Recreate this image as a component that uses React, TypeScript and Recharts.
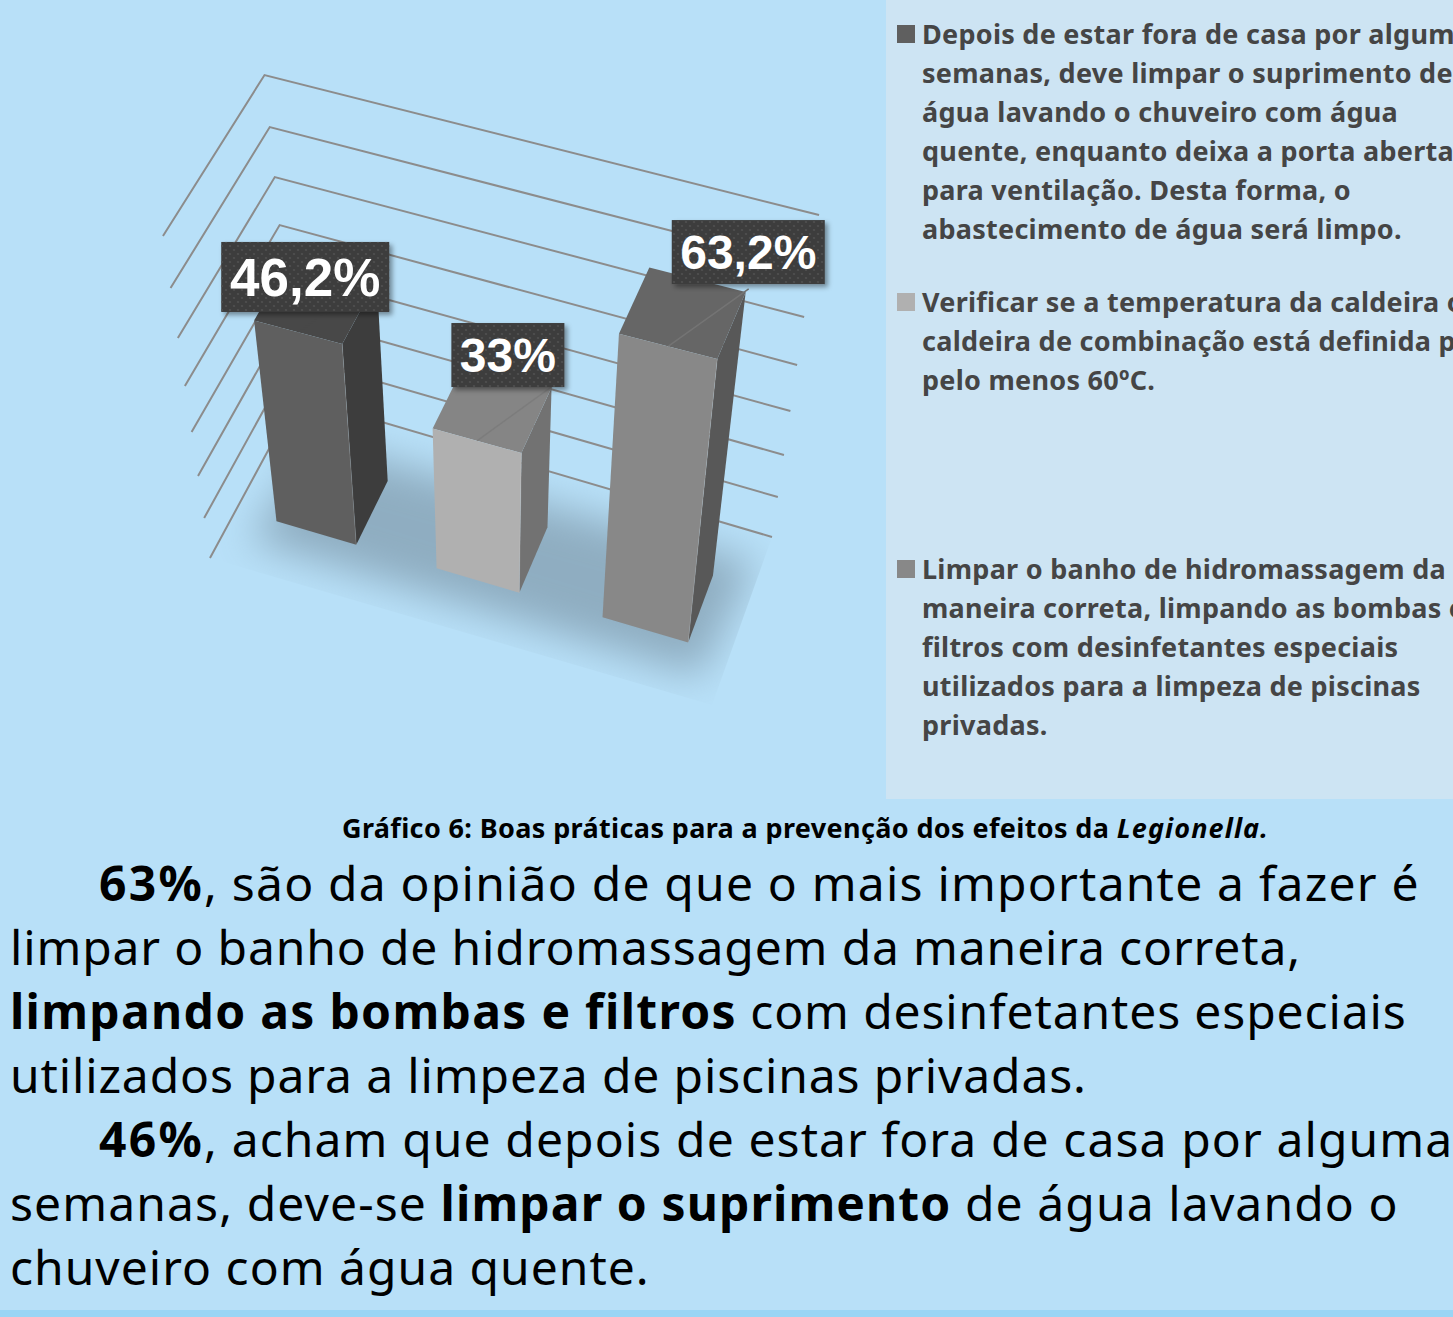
import React from 'react';
import { BarChart, Bar, XAxis, YAxis, Legend, LabelList, CartesianGrid } from 'recharts';

const categories = [
  ['Depois de estar fora de casa por algumas', 'semanas, deve limpar o suprimento de', 'água lavando o chuveiro com água', 'quente, enquanto deixa a porta aberta', 'para ventilação. Desta forma, o', 'abastecimento de água será limpo.'],
  ['Verificar se a temperatura da caldeira ou', 'caldeira de combinação está definida para', 'pelo menos 60ºC.'],
  ['Limpar o banho de hidromassagem da', 'maneira correta, limpando as bombas e', 'filtros com desinfetantes especiais', 'utilizados para a limpeza de piscinas', 'privadas.'],
];
const shares = [46.2, 33, 63.2];
const gridValues = [0, 10, 20, 30, 40, 50, 60, 70];

const faceColors = ['#5f5f5f', '#b0b0b0', '#888888'];
const topColors = ['#484848', '#858585', '#666666'];
const sideColors = ['#3d3d3d', '#727272', '#585858'];
const diagonalColors = ['#484848', '#7c7c7c', '#747474'];
const legendTops = [14, 282, 549];
const labelBoxes = [
  { dx: -37, dy: -67, w: 168, h: 70, font: 53 },
  { dx: -13.5, dy: -98, w: 113, h: 64, font: 48 },
  { dx: 31, dy: -107, w: 153, h: 64, font: 48 },
];

const BG = '#b8e0f8';
const BASELINE = 408;

// fake perspective: the library gives flat bars, these bend them onto the tilted floor
const gridWarp = (h: number) => h * (0.886 + 0.000517 * h);
const barWarp = (h: number) => h * (0.9 + 0.00043 * h);
const lift = (x: number, y: number, f: number): [number, number] => [x + (x - 491) * 0.00052 * f, y - f];
const squeeze = (u: number) => u + 0.00011 * (u - 276) * (u - 602);
const floorY = (x: number) => 521 + 0.295 * (x - 276);
const depth = (x: number): [number, number] => [33 - (x - 276) * 0.02, -63 - (x - 276) * 0.01];
const pts = (list: number[][]) => list.map((p) => `${p[0]},${p[1]}`).join(' ');

const Prism = (props: any) => {
  const { x, width, height, index } = props;
  const f = barWarp(height);
  const xl = squeeze(x);
  const xr = squeeze(x + width);
  const fl: [number, number] = [xl, floorY(xl)];
  const fr: [number, number] = [xr, floorY(xr)];
  const dl = depth(xl);
  const dr = depth(xr);
  const bl: [number, number] = [xl + dl[0], fl[1] + dl[1]];
  const br: [number, number] = [xr + dr[0], fr[1] + dr[1]];
  const tfl = lift(fl[0], fl[1], f);
  const tfr = lift(fr[0], fr[1], f);
  const tbl = lift(bl[0], bl[1], f);
  const tbr = lift(br[0], br[1], f);
  return (
    <g>
      <polygon points={pts([fr, br, tbr, tfr])} fill={sideColors[index]} />
      <polygon points={pts([tfl, tfr, tbr, tbl])} fill={topColors[index]} />
      <line x1={(tfl[0] + tfr[0]) / 2} y1={(tfl[1] + tfr[1]) / 2} x2={tbr[0] + 3} y2={tbr[1] - 3} stroke={diagonalColors[index]} strokeWidth={1.5} />
      <polygon points={pts([fl, fr, tfr, tfl])} fill={faceColors[index]} />
      <line x1={fr[0]} y1={fr[1]} x2={tfr[0]} y2={tfr[1]} stroke="#ffffff" strokeOpacity={0.15} />
    </g>
  );
};

const Floor = () => (
  <g>
    <defs>
      <clipPath id="floorClip">
        <polygon points="297,397 772,537 712,705 210,558" />
      </clipPath>
      <filter id="floorBlur" x="-30%" y="-30%" width="160%" height="160%">
        <feGaussianBlur stdDeviation="20" />
      </filter>
    </defs>
    <g clipPath="url(#floorClip)">
      <polygon points="250,540 318,442 755,562 700,676" fill="#8fadc1" filter="url(#floorBlur)" />
    </g>
  </g>
);

const GridLine = (props: any) => {
  const h = BASELINE - props.y1;
  const f = gridWarp(h);
  const a = lift(210, 558, f);
  const b = lift(297, 397, f);
  const c = lift(772, 537, f);
  return (
    <g>
      {h < 1 && <Floor />}
      <polyline points={pts([a, b, c])} fill="none" stroke="#8c8c8c" strokeWidth={2} />
    </g>
  );
};

const ValueTag = (props: any) => {
  const box = props.viewBox ?? props;
  const { x, width, height } = box;
  const index = props.index;
  const xr = squeeze(x + width);
  const anchor = lift(xr, floorY(xr), barWarp(Math.abs(height)));
  const tag = labelBoxes[index];
  const cx = anchor[0] + tag.dx;
  const cy = anchor[1] + tag.dy;
  return (
    <g>
      <rect x={cx - tag.w / 2} y={cy - tag.h / 2} width={tag.w} height={tag.h} fill="#3c3c3c" filter="url(#tagShadow)" />
      <rect x={cx - tag.w / 2} y={cy - tag.h / 2} width={tag.w} height={tag.h} fill="url(#tagDots)" />
      <text x={cx} y={cy + tag.font * 0.36} textAnchor="middle" fill="#ffffff" fontFamily="'Liberation Sans', Arial, sans-serif" fontWeight={700} fontSize={tag.font}>
        {String(shares[index]).replace('.', ',') + '%'}
      </text>
    </g>
  );
};

const LegendPanel = () => (
  <div style={{ position: 'relative', width: 567, height: 799, background: '#cde4f3', overflow: 'hidden', fontFamily: "'Noto Sans', sans-serif", fontWeight: 700, fontSize: 27, lineHeight: '39px', color: '#454545', letterSpacing: 0.27 }}>
    {categories.map((lines, i) => (
      <div key={i} style={{ position: 'absolute', left: 0, top: legendTops[i], width: 567 }}>
        <span style={{ position: 'absolute', left: 11, top: 11, width: 18, height: 18, background: faceColors[i] }} />
        {lines.map((line) => (
          <div key={line} style={{ marginLeft: 36, whiteSpace: 'nowrap' }}>{line}</div>
        ))}
      </div>
    ))}
  </div>
);

const chartData = categories.map((lines, i) => ({ name: lines[0], share: shares[i] }));

const bodyStyle: React.CSSProperties = { position: 'absolute', left: 10, whiteSpace: 'nowrap', fontSize: 48, lineHeight: '64px', letterSpacing: 1.1, color: '#000000' };

export default function App() {
  return (
    <div style={{ position: 'absolute', left: 0, top: 0, width: 1453, height: 1317, background: BG, overflow: 'hidden', fontFamily: "'Noto Sans', sans-serif" }}>
      <BarChart width={1453} height={800} data={chartData} margin={{ top: 100, right: 161.5, bottom: 392, left: 235.5 }} barCategoryGap={0}>
        <defs>
          <pattern id="tagDots" width="8" height="8" patternUnits="userSpaceOnUse">
            <circle cx="2" cy="2" r="1.1" fill="#505050" />
            <circle cx="6" cy="6" r="1.1" fill="#505050" />
          </pattern>
          <filter id="tagShadow" x="-10%" y="-10%" width="125%" height="130%">
            <feDropShadow dx="3" dy="3" stdDeviation="2.5" floodColor="#000000" floodOpacity="0.4" />
          </filter>
        </defs>
        <CartesianGrid vertical={false} horizontal={GridLine} horizontalValues={gridValues} />
        <XAxis dataKey="name" hide />
        <YAxis hide domain={[0, 70]} ticks={gridValues} />
        <Legend layout="vertical" align="right" verticalAlign="top" width={567} content={LegendPanel} wrapperStyle={{ left: 886, top: 0, width: 567, height: 799 }} />
        <Bar dataKey="share" barSize={82} isAnimationActive={false} shape={Prism}>
          <LabelList dataKey="share" content={ValueTag} />
        </Bar>
      </BarChart>

      <div style={{ position: 'absolute', left: 342, top: 810, whiteSpace: 'nowrap', fontWeight: 700, fontSize: 27, lineHeight: '36px', letterSpacing: 0.37, color: '#000000' }}>
        Gráfico 6: Boas práticas para a prevenção dos efeitos da <i style={{ letterSpacing: 1.1 }}>Legionella.</i>
      </div>

      <div style={{ ...bodyStyle, left: 99, top: 851, letterSpacing: 1.2 }}><b style={{ letterSpacing: 2.3 }}>63%</b>, são da opinião de que o mais importante a fazer é</div>
      <div style={{ ...bodyStyle, top: 915, letterSpacing: 0.85 }}>limpar o banho de hidromassagem da maneira correta,</div>
      <div style={{ ...bodyStyle, top: 979, letterSpacing: 0.87 }}><b style={{ letterSpacing: 1.3 }}>limpando as bombas e filtros</b> com desinfetantes especiais</div>
      <div style={{ ...bodyStyle, top: 1043, letterSpacing: 0.86 }}>utilizados para a limpeza de piscinas privadas.</div>
      <div style={{ ...bodyStyle, left: 99, top: 1107 }}><b style={{ letterSpacing: 2.3 }}>46%</b>, acham que depois de estar fora de casa por algumas</div>
      <div style={{ ...bodyStyle, top: 1171 }}>semanas, deve-se <b>limpar o suprimento</b> de água lavando o</div>
      <div style={{ ...bodyStyle, top: 1235, letterSpacing: 1 }}>chuveiro com água quente.</div>

      <div style={{ position: 'absolute', left: 0, top: 1310, width: 1453, height: 7, background: '#9ad5f5' }} />
    </div>
  );
}
